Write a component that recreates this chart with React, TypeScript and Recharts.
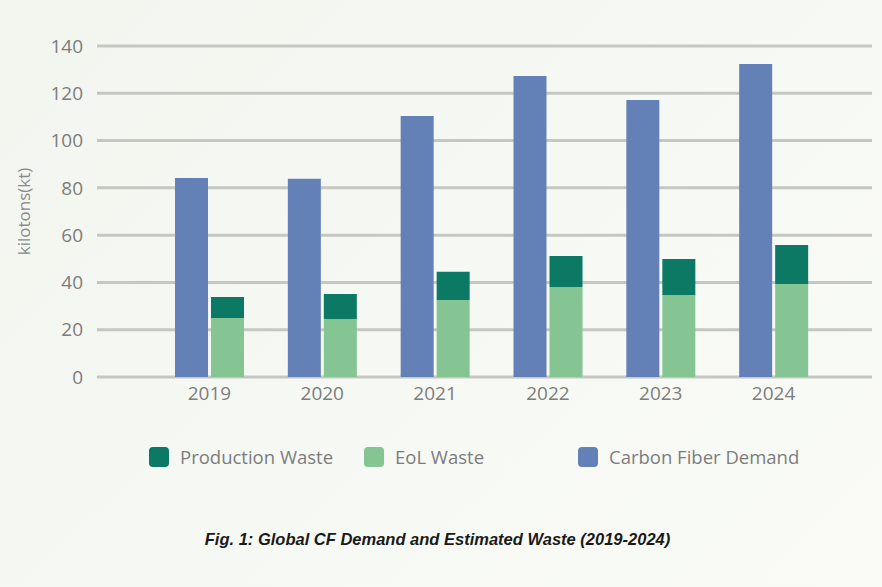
import { BarChart, Bar, XAxis, YAxis, CartesianGrid } from "recharts";

const years = ["2019", "2020", "2021", "2022", "2023", "2024"];
const carbonFiberDemand = [84.2, 83.8, 110.4, 127.3, 117.2, 132.4];
const eolWaste = [25.0, 24.5, 32.6, 38.1, 34.7, 39.3];
const productionWaste = [8.8, 10.6, 11.9, 13.1, 15.2, 16.5];
const yTicks = [0, 20, 40, 60, 80, 100, 120, 140];

const legendItems = [
  { name: "Production Waste", color: "#0b7964" },
  { name: "EoL Waste", color: "#84c593" },
  { name: "Carbon Fiber Demand", color: "#6381b6" },
];
const legendLeft = [149, 364, 578];

const data = years.map((year, i) => ({
  year,
  demand: carbonFiberDemand[i],
  eol: eolWaste[i],
  production: productionWaste[i],
}));

const FONT = "'Open Sans', sans-serif";
const GREY = "#7d7d7d";

export default function App() {
  return (
    <div
      style={{
        position: "absolute",
        left: 0,
        top: 0,
        width: 882,
        height: 587,
        background: "linear-gradient(135deg, #f2f6ef 0%, #f7f9f4 60%, #fafbf7 100%)",
        fontFamily: FONT,
      }}
    >
      <BarChart
        width={882}
        height={420}
        data={data}
        margin={{ top: 46, right: 10, bottom: 0, left: 0 }}
        barSize={33}
        barGap={3}
      >
        <CartesianGrid vertical={false} stroke="#c6c7c2" strokeWidth={3} />
        <XAxis
          dataKey="year"
          axisLine={false}
          tickLine={false}
          tickMargin={4}
          height={43}
          padding={{ left: 56, right: 42 }}
          tick={{ fill: GREY, fontSize: 19, fontFamily: FONT }}
        />
        <YAxis
          width={97}
          domain={[0, 140]}
          ticks={yTicks}
          axisLine={false}
          tickLine={false}
          tickMargin={8}
          tick={{ fill: GREY, fontSize: 19, fontFamily: FONT }}
          label={{
            value: "kilotons(kt)",
            angle: -90,
            position: "insideLeft",
            offset: 24,
            fill: "#8a8a8a",
            fontSize: 17,
            fontFamily: FONT,
            style: { textAnchor: "middle" },
          }}
        />
        <Bar dataKey="demand" name="Carbon Fiber Demand" stackId="demand" fill="#6381b6" isAnimationActive={false} />
        <Bar dataKey="eol" name="EoL Waste" stackId="waste" fill="#84c593" isAnimationActive={false} />
        <Bar dataKey="production" name="Production Waste" stackId="waste" fill="#0b7964" isAnimationActive={false} />
      </BarChart>

      {legendItems.map((item, i) => (
        <div
          key={item.name}
          style={{
            position: "absolute",
            left: legendLeft[i],
            top: 447,
            height: 20,
            display: "flex",
            alignItems: "center",
            whiteSpace: "nowrap",
          }}
        >
          <span
            style={{
              display: "inline-block",
              width: 20,
              height: 20,
              borderRadius: 4,
              background: item.color,
              marginRight: 11,
            }}
          />
          <span style={{ color: GREY, fontSize: 18.5, lineHeight: "20px" }}>{item.name}</span>
        </div>
      ))}

      <div
        style={{
          position: "absolute",
          left: 0,
          top: 530,
          width: 875,
          textAlign: "center",
          fontFamily: "'Liberation Sans', Arial, sans-serif",
          fontWeight: "bold",
          fontStyle: "italic",
          fontSize: 16.5,
          color: "#1a1a1a",
        }}
      >
        Fig. 1: Global CF Demand and Estimated Waste (2019-2024)
      </div>
    </div>
  );
}
